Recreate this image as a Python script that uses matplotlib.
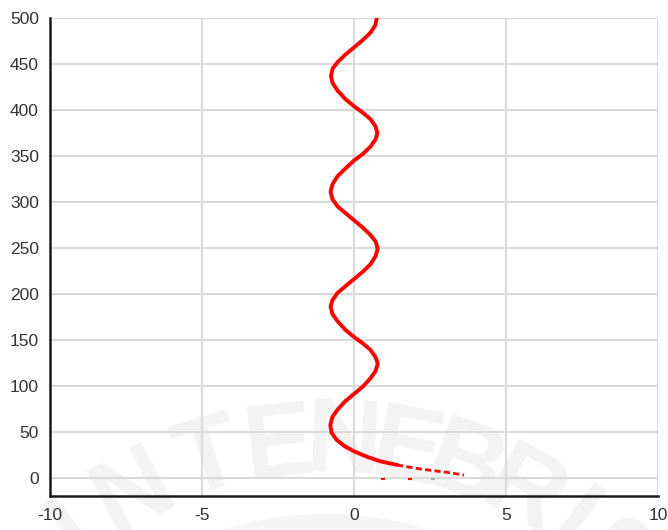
import numpy as np
import matplotlib
matplotlib.use('Agg')
import matplotlib.pyplot as plt
from matplotlib.patches import Arc

plt.rcParams['font.family'] = ['Liberation Sans', 'DejaVu Sans']

# profile read along depth (x = value, y = depth)
prof_y = [500, 492, 484, 476, 468, 460, 452, 445, 437, 429, 421, 412, 404,
          397, 390, 382, 375, 368, 360, 352, 345, 336, 328, 319, 311,
          303, 295, 288, 280, 272, 264, 257, 249, 241, 232, 224, 216,
          208, 201, 193, 186, 178, 170, 161, 153, 146, 139, 131, 124,
          116, 108, 99, 91, 83, 74, 66, 57, 49, 41, 34, 28.6, 22.5, 17.7, 13.8]
prof_x = [0.75, 0.70, 0.54, 0.29, 0.00, -0.29, -0.54, -0.70, -0.76, -0.70, -0.54, -0.29, 0.00,
          0.29, 0.54, 0.71, 0.77, 0.71, 0.54, 0.29, 0.00, -0.29, -0.54, -0.71, -0.77,
          -0.71, -0.54, -0.29, 0.00, 0.29, 0.54, 0.71, 0.78, 0.71, 0.54, 0.29, 0.00,
          -0.29, -0.54, -0.71, -0.77, -0.71, -0.54, -0.29, 0.00, 0.29, 0.54, 0.71, 0.78,
          0.71, 0.54, 0.29, 0.00, -0.29, -0.54, -0.71, -0.78, -0.74, -0.57, -0.30, 0.00, 0.44, 0.87, 1.42]

# sparse tail near the surface
tail_y = [13.8, 10.5, 7.9, 5.7, 2.8]
tail_x = [1.42, 1.97, 2.52, 3.07, 3.62]

# loose points just under zero
dot_x = [0.95, 1.85]
dot_y = [-1.5, -1.5]
dot_grey_x = [2.6]
dot_grey_y = [-1.5]

x_ticks = [-10, -5, 0, 5, 10]
y_ticks = [0, 50, 100, 150, 200, 250, 300, 350, 400, 450, 500]

fig = plt.figure(figsize=(6.68, 5.30), dpi=100)

# faint seal in the background
seal_cx, seal_cy, seal_r = 326, 852, 407
letters = ['I', 'N', 'T', 'E', 'N', 'E', 'B', 'R', 'I', 'S']
angles = [-38, -28, -16.5, -6.5, 2.5, 11.5, 20, 29, 37, 45]
for ch, a in zip(letters, angles):
    t = np.radians(a)
    px = seal_cx + seal_r * np.sin(t)
    py = seal_cy - seal_r * np.cos(t)
    fig.text(px / 668, 1 - py / 530, ch, fontsize=76, fontweight='semibold',
             family='Liberation Sans', color='#f3f3f3', ha='center', va='center',
             rotation=-a, rotation_mode='anchor', zorder=-5)
arc = Arc((seal_cx / 100, (530 - seal_cy) / 100), 2 * 3.3, 2 * 3.3, theta1=55, theta2=125,
          transform=fig.dpi_scale_trans, color='#f5f5f5', lw=12, zorder=-5)
fig.patches.append(arc)

ax = fig.add_axes([50 / 668, 1 - 496 / 530, 608 / 668, 478 / 530])
ax.patch.set_visible(False)

ax.plot(prof_x, prof_y, color='#ff0000', lw=2.8, solid_capstyle='round',
        solid_joinstyle='round', zorder=3)
ax.plot(tail_x, tail_y, color='#ff0000', lw=2.0, linestyle=(0, (2.2, 1.2)), zorder=3)
ax.plot(dot_x, dot_y, linestyle='none', marker='_', color='#ff0000', ms=3, mew=1.5, zorder=3)
ax.plot(dot_grey_x, dot_grey_y, linestyle='none', marker='_', color='#aaaaaa', ms=3, mew=1.5, zorder=3)

ax.set_xlim(-10, 10)
ax.set_ylim(-20, 500)
ax.set_xticks(x_ticks)
ax.set_yticks(y_ticks)
ax.set_xticklabels([str(v) for v in x_ticks])
ax.set_yticklabels([str(v) for v in y_ticks])
ax.tick_params(length=0, labelsize=12.5, labelcolor='#333333')
ax.tick_params(axis='y', pad=8)
ax.tick_params(axis='x', pad=9)
ax.grid(True, color='#dadada', lw=1.5, zorder=1)
ax.set_axisbelow(True)

for side in ['top', 'right']:
    ax.spines[side].set_visible(False)
for side in ['left', 'bottom']:
    ax.spines[side].set_color('#1a1a1a')
    ax.spines[side].set_linewidth(1.8)

fig.savefig('out.png', dpi=100)
